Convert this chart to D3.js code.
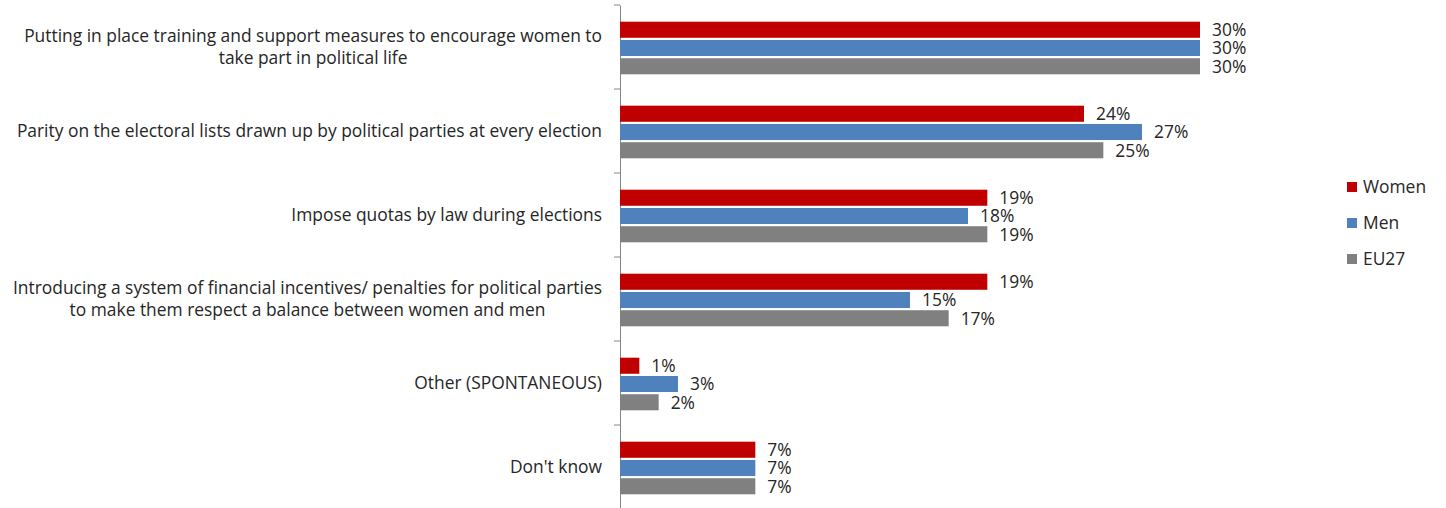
<!DOCTYPE html>
<html><head><meta charset="utf-8">
<script src="https://cdn.jsdelivr.net/npm/d3@7"></script>
<style>
html,body{margin:0;padding:0;background:#fff;}
svg{display:block;font-family:"Open Sans",Lato,sans-serif;}
</style></head>
<body><svg id="chart" width="1446" height="508"></svg>
<script>
const categories = [
  "Putting in place training and support measures to encourage women to\ntake part in political life",
  "Parity on the electoral lists drawn up by political parties at every election",
  "Impose quotas by law during elections",
  "Introducing a system of financial incentives/ penalties for political parties\nto make them respect a balance between women and men",
  "Other (SPONTANEOUS)",
  "Don't know"
];
const seriesNames = ["Women", "Men", "EU27"];
const women = [30, 24, 19, 19, 1, 7];
const men   = [30, 27, 18, 15, 3, 7];
const eu27  = [30, 25, 19, 17, 2, 7];
const colors = ["#C00000", "#4F81BD", "#808080"];

const values = [women, men, eu27];
const svg = d3.select("#chart");
const textColor = "#262626";
const fontSize = 17.4;

const x = d3.scaleLinear().domain([0, 30]).range([620, 1200]);
const y = d3.scaleBand().domain(categories).range([5, 509]);
const yInner = d3.scaleBand().domain(seriesNames).range([16.7, 69.3]).paddingInner(0.12);

// axis
const axis = d3.axisLeft(y).tickSize(0).tickFormat("");
const ag = svg.append("g").attr("transform", "translate(620,0)").call(axis);
ag.select(".domain").attr("stroke", "#868686");
// boundary ticks
const bounds = categories.map(c => y(c)).concat([y(categories[categories.length-1]) + y.bandwidth()]);
svg.append("g").selectAll("line").data(bounds).join("line")
  .attr("x1", 614).attr("x2", 620).attr("y1", d => d).attr("y2", d => d)
  .attr("stroke", "#868686").attr("stroke-width", 1);

// bars
const groups = svg.append("g").selectAll("g").data(categories).join("g")
  .attr("transform", c => `translate(0,${y(c)})`);
seriesNames.forEach((s, si) => {
  groups.append("rect")
    .attr("x", x(0))
    .attr("y", yInner(s))
    .attr("width", (c, i) => x(values[si][i]) - x(0))
    .attr("height", yInner.bandwidth())
    .attr("fill", colors[si]);
  groups.append("text")
    .attr("x", (c, i) => x(values[si][i]) + 12)
    .attr("y", yInner(s) + yInner.bandwidth() / 2)
    .attr("dy", "0.36em")
    .attr("fill", textColor)
    .attr("font-size", fontSize)
    .text((c, i) => values[si][i] + "%");
});

// category labels
groups.each(function(c) {
  const g = d3.select(this);
  const lines = c.split("\n");
  const cy = y.bandwidth() / 2;
  const lh = 22;
  const t = g.append("text").attr("fill", textColor).attr("font-size", fontSize);
  const spans = lines.map((ln, k) => t.append("tspan")
    .attr("y", cy + (k - (lines.length - 1) / 2) * lh)
    .attr("dy", "0.36em").text(ln));
  let maxW = 0;
  spans.forEach(sp => { maxW = Math.max(maxW, sp.node().getComputedTextLength()); });
  const cx = 602 - maxW / 2;
  spans.forEach(sp => sp.attr("x", cx));
  t.attr("text-anchor", "middle");
});

// legend
const leg = svg.append("g").selectAll("g").data(seriesNames).join("g")
  .attr("transform", (d, i) => `translate(1347,${187 + i * 36})`);
leg.append("rect").attr("x", 0).attr("y", -5).attr("width", 10).attr("height", 10)
  .attr("fill", (d, i) => colors[i]);
leg.append("text").attr("x", 16).attr("y", 0).attr("dy", "0.36em")
  .attr("fill", textColor).attr("font-size", fontSize).text(d => d);
</script></body></html>
